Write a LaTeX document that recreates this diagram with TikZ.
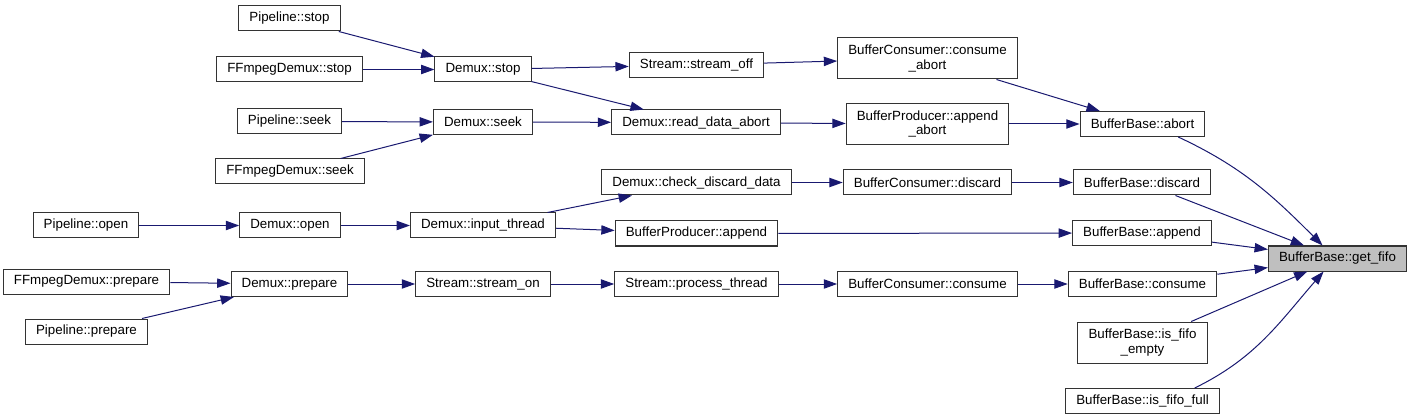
\documentclass[tikz,border=0pt]{standalone}
\usepackage{fontspec}
\setmainfont{Liberation Sans}
\usepackage{xcolor}
\definecolor{edgeblue}{HTML}{191970}
\definecolor{boxgray}{HTML}{BFBFBF}
\usepackage{tikz}
\usetikzlibrary{arrows.meta,positioning}
\tikzset{
  nb/.style={draw=black!80, line width=0.75pt, align=center, font=\fontsize{10}{11}\selectfont,
             inner xsep=8pt, inner ysep=4pt, minimum height=18.75pt, fill=white},
  nb2/.style={nb, minimum height=30.75pt},
  ncur/.style={nb, fill=boxgray},
  ar/.style={-{Triangle[length=10pt,width=7pt]}, draw=edgeblue, line width=0.75pt},
}
\begin{document}
\begin{tikzpicture}[x=0.75pt, y=-0.75pt]
  \useasboundingbox (0,0) rectangle (1412,420);
  \node[nb] (pstop) at (289.5,18.5) {Pipeline::stop};
  \node[nb] (fstop) at (289.5,69.5) {FFmpegDemux::stop};
  \node[nb] (pseek) at (289.5,121.5) {Pipeline::seek};
  \node[nb] (fseek) at (290,171.5) {FFmpegDemux::seek};
  \node[nb] (popen) at (86,225.5) {Pipeline::open};
  \node[nb] (fprep) at (86.5,281.5) {FFmpegDemux::prepare};
  \node[nb] (pprep) at (86.5,331.5) {Pipeline::prepare};
  \node[nb] (dopen) at (290,225.5) {Demux::open};
  \node[nb] (dprep) at (289.5,284) {Demux::prepare};
  \node[nb] (dstop) at (483,69.5) {Demux::stop};
  \node[nb] (dseek) at (483,122) {Demux::seek};
  \node[nb] (dinput) at (483,225.5) {Demux::input\_thread};
  \node[nb] (son) at (483,284) {Stream::stream\_on};
  \node[nb] (soff) at (696.5,65) {Stream::stream\_off};
  \node[nb] (drda) at (696,122.5) {Demux::read\_data\_abort};
  \node[nb] (dcdd) at (696.5,182.5) {Demux::check\_discard\_data};
  \node[nb] (bpappend) at (696.5,233.5) {BufferProducer::append};
  \node[nb] (sproc) at (696.5,284) {Stream::process\_thread};
  \node[nb2] (bcabort) at (927.5,58.5) {BufferConsumer::consume\\\_abort};
  \node[nb2] (bpabort) at (927.5,124) {BufferProducer::append\\\_abort};
  \node[nb] (bcdiscard) at (927.5,182.5) {BufferConsumer::discard};
  \node[nb] (bcconsume) at (927.5,284) {BufferConsumer::consume};
  \node[nb] (bbabort) at (1142.5,124) {BufferBase::abort};
  \node[nb] (bbdiscard) at (1142,182.5) {BufferBase::discard};
  \node[nb] (bbappend) at (1142,233) {BufferBase::append};
  \node[nb] (bbconsume) at (1142.5,284) {BufferBase::consume};
  \node[nb2] (bbempty) at (1142.5,342.5) {BufferBase::is\_fifo\\\_empty};
  \node[nb] (bbfull) at (1142.5,401) {BufferBase::is\_fifo\_full};
  \node[ncur] (getfifo) at (1337.5,258.5) {BufferBase::get\_fifo};
  \draw[ar] (pstop) -- (dstop);
  \draw[ar] (fstop) -- (dstop);
  \draw[ar] (pseek) -- (dseek);
  \draw[ar] (fseek) -- (dseek);
  \draw[ar] (popen) -- (dopen);
  \draw[ar] (fprep) -- (dprep);
  \draw[ar] (pprep) -- (dprep);
  \draw[ar] (dopen) -- (dinput);
  \draw[ar] (dprep) -- (son);
  \draw[ar] (dstop) -- (soff);
  \draw[ar] (dstop) -- (drda);
  \draw[ar] (dseek) -- (drda);
  \draw[ar] (dinput) -- (dcdd);
  \draw[ar] (dinput) -- (bpappend);
  \draw[ar] (son) -- (sproc);
  \draw[ar] (soff) -- (bcabort);
  \draw[ar] (drda) -- (bpabort);
  \draw[ar] (dcdd) -- (bcdiscard);
  \draw[ar] (bpappend) -- (bbappend);
  \draw[ar] (sproc) -- (bcconsume);
  \draw[ar] (bcabort) -- (bbabort);
  \draw[ar] (bpabort) -- (bbabort);
  \draw[ar] (bcdiscard) -- (bbdiscard);
  \draw[ar] (bcconsume) -- (bbconsume);
  \draw[ar] (bbabort.-20) to[out=-25, in=135] (getfifo.139);
  \draw[ar] (bbdiscard) -- (getfifo);
  \draw[ar] (bbappend) -- (getfifo);
  \draw[ar] (bbconsume) -- (getfifo);
  \draw[ar] (bbempty) -- (getfifo);
  \draw[ar] (bbfull.14) to[out=26, in=-131] (getfifo.-137);
\end{tikzpicture}
\end{document}
